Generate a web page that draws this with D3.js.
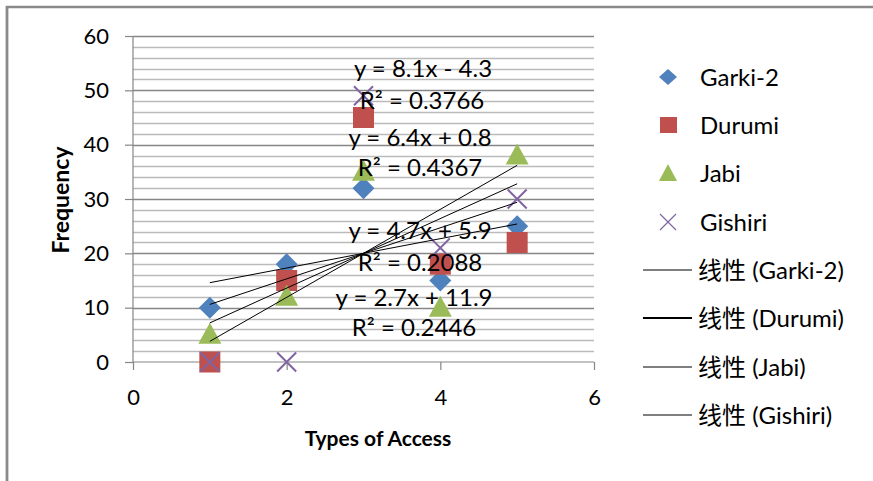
<!DOCTYPE html>
<html>
<head>
<meta charset="utf-8">
<script src="https://cdn.jsdelivr.net/npm/d3@7/dist/d3.min.js"></script>
<style>
  html, body { margin: 0; padding: 0; background: #fff; }
  svg { display: block; }
  text { font-family: Lato, "Noto Sans CJK SC", sans-serif; fill: #000; }
</style>
</head>
<body>
<svg id="chart" width="873" height="481"></svg>
<script>
// Types of access (x) and frequency per area
const accessTypes = [1, 2, 3, 4, 5];
const garki2  = [10, 18, 32, 15, 25];
const durumi  = [0, 15, 45, 18, 22];
const jabi    = [5, 12, 35, 10, 38];
const gishiri = [0, 0, 49, 21, 30];

const seriesNames = ["Garki-2", "Durumi", "Jabi", "Gishiri"];
const trendPrefix = "线性";

// Fitted linear trend lines (slope, intercept, R²) as printed on the chart
const trendSlopes     = [2.7, 4.7, 6.4, 8.1];
const trendIntercepts = [11.9, 5.9, 0.8, -4.3];
const trendR2         = ["0.2446", "0.2088", "0.4367", "0.3766"];

const xTicks = [0, 2, 4, 6];
const yTicks = [0, 10, 20, 30, 40, 50, 60];

const colors  = ["#4F81BD", "#C0504D", "#9BBB59", "#8064A2"];

const svg = d3.select("#chart");

// outer frame (top and left edges visible)
svg.append("line").attr("x1", 6).attr("x2", 873).attr("y1", 7).attr("y2", 7)
  .attr("stroke", "#8a8a8a").attr("stroke-width", 2.5);
svg.append("line").attr("x1", 7).attr("x2", 7).attr("y1", 6).attr("y2", 481)
  .attr("stroke", "#8a8a8a").attr("stroke-width", 2.8);

const x = d3.scaleLinear().domain([0, 6]).range([133, 594]);
const y = d3.scaleLinear().domain([0, 60]).range([362, 36]);

// gridlines: minor every 2, major every 10
const minor = d3.range(2, 60, 2).filter(v => v % 10 !== 0);
svg.append("g").selectAll("line").data(minor).join("line")
  .attr("x1", x(0)).attr("x2", x(6))
  .attr("y1", d => Math.round(y(d)) + 0.5).attr("y2", d => Math.round(y(d)) + 0.5)
  .attr("stroke", "#bababa").attr("stroke-width", 1.5);
svg.append("g").selectAll("line").data(yTicks.filter(v => v > 0)).join("line")
  .attr("x1", x(0)).attr("x2", x(6))
  .attr("y1", d => Math.round(y(d)) + 0.5).attr("y2", d => Math.round(y(d)) + 0.5)
  .attr("stroke", "#868686").attr("stroke-width", 1.5);

// axes
const yAxis = d3.axisLeft(y).tickValues(yTicks).tickSize(8).tickPadding(16)
  .tickFormat(d3.format("d"));
const xAxis = d3.axisBottom(x).tickValues(xTicks).tickSize(8).tickPadding(19)
  .tickFormat(d3.format("d"));

const gy = svg.append("g").attr("transform", `translate(${x(0)},0)`).call(yAxis);
const gx = svg.append("g").attr("transform", `translate(0,${y(0)})`).call(xAxis);
[gy, gx].forEach(g => {
  g.select(".domain").attr("stroke", "#868686").attr("stroke-width", 1.2);
  g.selectAll(".tick line").attr("stroke", "#868686").attr("stroke-width", 1.2);
  g.selectAll(".tick text").attr("font-size", 22).attr("fill", "#000")
    .style("font-family", "Lato, sans-serif");
});
gx.select(".domain").attr("d", `M${x(0)},0H${x(6)}`);
gy.select(".domain").attr("d", `M0,${y(0)}V${y(60)}`);

// axis titles
svg.append("text").attr("x", 378).attr("y", 446).attr("text-anchor", "middle")
  .attr("font-size", 21).attr("font-weight", "bold").text("Types of Access");
svg.append("text").attr("transform", "translate(69,200) rotate(-90)")
  .attr("text-anchor", "middle").attr("font-size", 23).attr("font-weight", "bold")
  .text("Frequency");

const allSeries = [garki2, durumi, jabi, gishiri];

function drawMarker(g, i, cx, cy) {
  if (i === 0) {
    const h = 11;
    g.append("path")
      .attr("d", `M${cx},${cy - h}L${cx + h},${cy}L${cx},${cy + h}L${cx - h},${cy}Z`)
      .attr("fill", colors[i]);
  } else if (i === 1) {
    g.append("rect").attr("x", cx - 10.5).attr("y", cy - 10.5)
      .attr("width", 21).attr("height", 21).attr("fill", colors[i]);
  } else if (i === 2) {
    g.append("path")
      .attr("d", `M${cx},${cy - 12}L${cx + 11.5},${cy + 9}L${cx - 11.5},${cy + 9}Z`)
      .attr("fill", colors[i]);
  } else {
    const h = 9.5;
    g.append("path")
      .attr("d", `M${cx - h},${cy - h}L${cx + h},${cy + h}M${cx - h},${cy + h}L${cx + h},${cy - h}`)
      .attr("stroke", colors[i]).attr("stroke-width", 2).attr("fill", "none");
  }
}

// markers
const gm = svg.append("g");
allSeries.forEach((vals, i) => {
  vals.forEach((v, k) => drawMarker(gm, i, x(accessTypes[k]), y(v)));
});

// trend lines from first to last x
const gt = svg.append("g");
trendSlopes.forEach((m, i) => {
  const x0 = accessTypes[0], x1 = accessTypes[accessTypes.length - 1];
  gt.append("line")
    .attr("x1", x(x0)).attr("y1", y(m * x0 + trendIntercepts[i]))
    .attr("x2", x(x1)).attr("y2", y(m * x1 + trendIntercepts[i]))
    .attr("stroke", "#000").attr("stroke-width", 1);
});

// equation labels: [series index, centre x, equation baseline, R² centre x, R² baseline]
const eqLayout = [
  [3, 423, 77, 422, 109],
  [2, 420, 146, 420, 176],
  [1, 420, 239, 420, 271],
  [0, 414, 306, 414, 336]
];
const ge = svg.append("g").attr("font-size", 24).attr("text-anchor", "middle");
eqLayout.forEach(([i, ex, ey, rx, ry]) => {
  const m = trendSlopes[i], b = trendIntercepts[i];
  const sign = b < 0 ? "-" : "+";
  ge.append("text").attr("x", ex).attr("y", ey)
    .text(`y = ${m}x ${sign} ${Math.abs(b)}`);
  ge.append("text").attr("x", rx).attr("y", ry)
    .text(`R² = ${trendR2[i]}`);
});

// legend
const lg = svg.append("g");
const legendRows = [77, 125, 173, 222, 270, 318, 367, 415];
seriesNames.forEach((name, i) => {
  const cy = legendRows[i];
  if (i === 0) {
    lg.append("path").attr("d", `M668,${cy - 8}L677,${cy}L668,${cy + 8}L659,${cy}Z`).attr("fill", colors[0]);
  } else if (i === 1) {
    lg.append("rect").attr("x", 660).attr("y", cy - 8).attr("width", 17).attr("height", 16).attr("fill", colors[1]);
  } else if (i === 2) {
    lg.append("path").attr("d", `M668,${cy - 9}L677,${cy + 8}L659,${cy + 8}Z`).attr("fill", colors[2]);
  } else {
    lg.append("path").attr("d", `M660,${cy - 8}L676,${cy + 8}M660,${cy + 8}L676,${cy - 8}`)
      .attr("stroke", colors[3]).attr("stroke-width", 1.2).attr("fill", "none");
  }
  lg.append("text").attr("x", 700).attr("y", cy + 9).attr("font-size", 24).text(name);
});
seriesNames.forEach((name, i) => {
  const cy = legendRows[4 + i];
  lg.append("line").attr("x1", 643).attr("x2", 692).attr("y1", cy).attr("y2", cy)
    .attr("stroke", "#000").attr("stroke-width", i === 1 ? 1.8 : 1.2);
  lg.append("text").attr("x", 698).attr("y", cy + 9).attr("font-size", 24)
    .text(`${trendPrefix} (${name})`);
});
</script>
</body>
</html>
